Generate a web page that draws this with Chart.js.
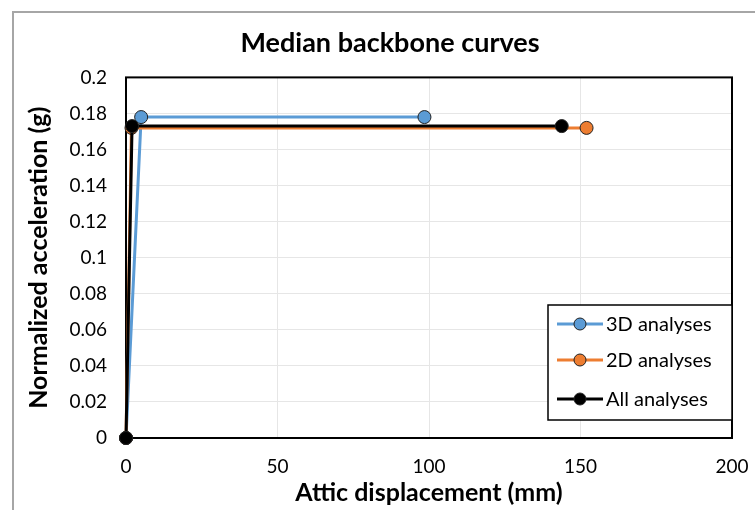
<!DOCTYPE html>
<html>
<head>
<meta charset="utf-8">
<title>Median backbone curves</title>
<script src="https://cdn.jsdelivr.net/npm/chart.js@4/dist/chart.umd.min.js"></script>
<style>
    html, body { margin: 0; padding: 0; background: #fff; }
    #wrap { position: relative; width: 755px; height: 510px; overflow: hidden; }
    #frame {
        position: absolute; left: 12px; top: 11px; width: 800px; height: 600px;
        border-left: 2px solid #a6a6a6; border-top: 2px solid #a6a6a6;
    }
    canvas { position: absolute; left: 0; top: 0; }
</style>
</head>
<body>
<div id="wrap">
    <div id="frame"></div>
    <canvas id="chartBackbone" width="755" height="510"></canvas>
</div>
<script>
/* --- datos ---------------------------------------------------------------- */
const seriesNames = ['3D analyses', '2D analyses', 'All analyses'];
const seriesColors = ['#5b9bd5', '#ed7d31', '#000000'];

const disp3D = [0, 5, 98.5];
const acc3D = [0, 0.178, 0.178];

const disp2D = [0, 1.8, 152];
const acc2D = [0, 0.172, 0.172];

const dispAll = [0, 2, 143.8];
const accAll = [0, 0.173, 0.173];

const xTicks = [0, 50, 100, 150, 200];
const yTicks = [0, 0.02, 0.04, 0.06, 0.08, 0.1, 0.12, 0.14, 0.16, 0.18, 0.2];

const FONT = 'Lato, "DejaVu Sans", sans-serif';

/* --- helpers ------------------------------------------------------------- */
function toPoints(xs, ys) {
    return xs.map((x, i) => ({ x, y: ys[i] }));
}

/* order: la serie "All" se dibuja encima de las demas */
function buildDataset(idx, xs, ys, order) {
    const color = seriesColors[idx];
    return {
        label: seriesNames[idx],
        data: toPoints(xs, ys),
        order,
        clip: false,
        borderColor: color,
        backgroundColor: color,
        borderWidth: 3,
        pointRadius: 6.5,
        pointBorderWidth: 1,
        pointBorderColor: '#222',
        pointBackgroundColor: color,
        showLine: true,
        tension: 0
    };
}

/* marco negro alrededor del area de trazado */
const plotFrame = {
    id: 'plotFrame',
    beforeDatasetsDraw(chart) {
        const { ctx, chartArea: a } = chart;
        ctx.save();
        ctx.strokeStyle = '#000';
        ctx.lineWidth = 2;
        ctx.strokeRect(a.left, a.top, a.right - a.left, a.bottom - a.top);
        ctx.restore();
    }
};

/* leyenda dentro del grafico, esquina inferior derecha */
const insideLegend = {
    id: 'insideLegend',
    afterDraw(chart) {
        const { ctx, chartArea: a } = chart;
        const w = 184, h = 115;
        const x0 = a.right - w, y0 = a.bottom - 133;
        ctx.save();
        ctx.fillStyle = '#fff';
        ctx.fillRect(x0, y0, w, h);
        ctx.strokeStyle = '#000';
        ctx.lineWidth = 1.5;
        ctx.strokeRect(x0, y0, w, h);

        const rows = [19, 55, 94];
        const items = [0, 1, 2].map(i => chart.data.datasets.find(d => d.label === seriesNames[i]));
        items.forEach((ds, i) => {
            const cy = y0 + rows[i];
            ctx.strokeStyle = ds.borderColor;
            ctx.lineWidth = 3;
            ctx.beginPath();
            ctx.moveTo(x0 + 9, cy);
            ctx.lineTo(x0 + 55, cy);
            ctx.stroke();

            ctx.beginPath();
            ctx.arc(x0 + 32, cy, 6, 0, Math.PI * 2);
            ctx.fillStyle = ds.pointBackgroundColor;
            ctx.fill();
            ctx.lineWidth = 1;
            ctx.strokeStyle = '#222';
            ctx.stroke();

            ctx.fillStyle = '#000';
            ctx.font = '20px ' + FONT;
            ctx.textBaseline = 'middle';
            ctx.fillText(ds.label, x0 + 58, cy + 1);
        });
        ctx.restore();
    }
};

/* --- grafico ------------------------------------------------------------- */
const chart = new Chart(document.getElementById('chartBackbone'), {
    type: 'scatter',
    data: {
        datasets: [
            buildDataset(0, disp3D, acc3D, 2),
            buildDataset(1, disp2D, acc2D, 1),
            buildDataset(2, dispAll, accAll, 0)
        ]
    },
    options: {
        responsive: false,
        animation: false,
        // padding izquierdo amplio para centrar el titulo; el titulo del eje Y se
        // desplaza hacia afuera con padding negativo
        layout: { padding: { left: 48, right: 23, top: 8, bottom: 2 } },
        plugins: {
            legend: { display: false },
            tooltip: { enabled: false },
            title: {
                display: true,
                text: 'Median backbone curves',
                color: '#000',
                font: { family: FONT, size: 27, weight: 'bold' },
                padding: { top: 19, bottom: 18 }
            }
        },
        scales: {
            x: {
                type: 'linear',
                min: 0,
                max: 200,
                afterBuildTicks: s => { s.ticks = xTicks.map(v => ({ value: v })); },
                afterFit: s => {
                    s.height = 70;
                    s.paddingLeft = 0;
                    s.paddingRight = 0;
                },
                grid: { color: '#e6e6e6', lineWidth: 1, drawTicks: false },
                border: { display: false },
                ticks: {
                    color: '#000',
                    padding: 17,
                    font: { family: FONT, size: 19 }
                },
                title: {
                    display: true,
                    text: 'Attic displacement (mm)',
                    color: '#000',
                    font: { family: FONT, size: 25, weight: 'bold' },
                    padding: { top: 0, bottom: 0 }
                }
            },
            y: {
                type: 'linear',
                min: 0,
                max: 0.2,
                afterBuildTicks: s => { s.ticks = yTicks.map(v => ({ value: v })); },
                afterFit: s => { s.width = 78; },
                grid: { color: '#e6e6e6', lineWidth: 1, drawTicks: false },
                border: { display: false },
                ticks: {
                    color: '#000',
                    padding: 19,
                    font: { family: FONT, size: 19 },
                    callback: v => String(Number(v.toFixed(2)))
                },
                title: {
                    display: true,
                    text: 'Normalized acceleration (g)',
                    color: '#000',
                    font: { family: FONT, size: 25, weight: 'bold' },
                    padding: { top: -24, bottom: 0 }
                }
            }
        }
    },
    plugins: [plotFrame, insideLegend]
});
</script>
</body>
</html>
